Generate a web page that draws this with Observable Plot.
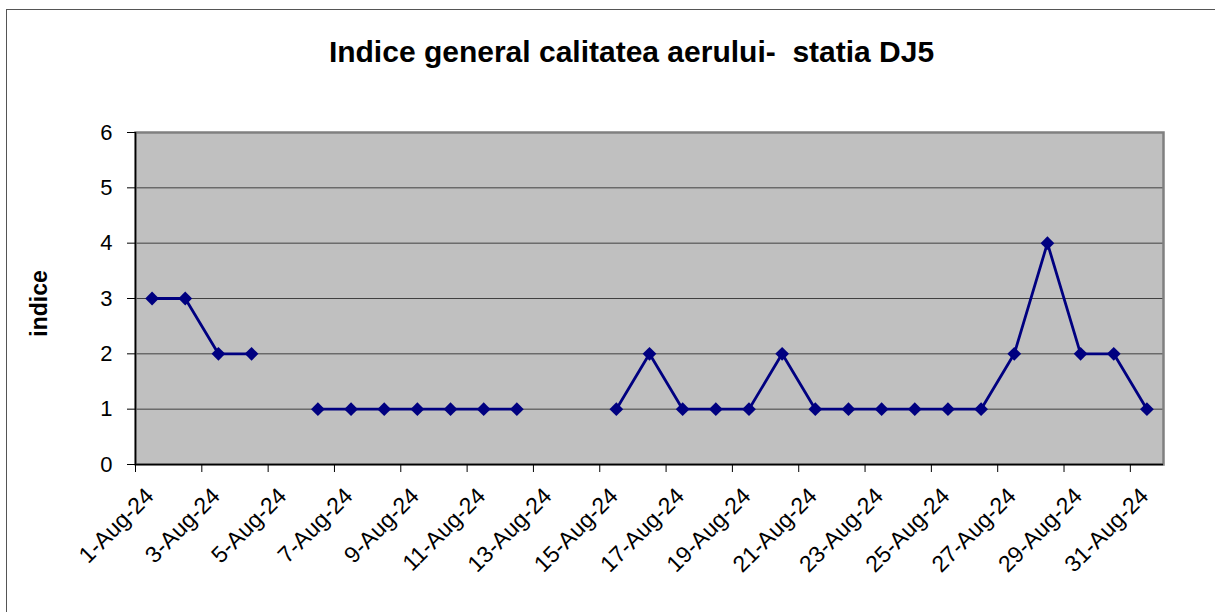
<!DOCTYPE html>
<html>
<head>
<meta charset="utf-8">
<script src="https://cdn.jsdelivr.net/npm/d3@7"></script>
<script src="https://cdn.jsdelivr.net/npm/@observablehq/plot@0.6"></script>
<style>
  html, body { margin: 0; padding: 0; background: #fff; }
  #wrap { position: relative; width: 1215px; height: 612px; overflow: hidden; }
  #border { position: absolute; left: 6px; top: 9px; right: -2px; bottom: -2px;
            border-top: 1px solid #555; border-left: 1px solid #555; }
  #chart { position: absolute; left: 0; top: 0; }
  svg text { white-space: pre; }
</style>
</head>
<body>
<div id="wrap"><div id="border"></div><div id="chart"></div></div>
<script>
const titleText = "Indice general calitatea aerului-  statia DJ5";
const yLabel = "indice";
const days = [1,2,3,4,5,6,7,8,9,10,11,12,13,14,15,16,17,18,19,20,21,22,23,24,25,26,27,28,29,30,31];
const values = [3,3,2,2,null,1,1,1,1,1,1,1,null,null,1,2,1,1,1,2,1,1,1,1,1,1,2,4,2,2,1];
const labelDays = [1,3,5,7,9,11,13,15,17,19,21,23,25,27,29,31];
const tickLabels = ["1-Aug-24","3-Aug-24","5-Aug-24","7-Aug-24","9-Aug-24","11-Aug-24","13-Aug-24","15-Aug-24",
                    "17-Aug-24","19-Aug-24","21-Aug-24","23-Aug-24","25-Aug-24","27-Aug-24","29-Aug-24","31-Aug-24"];
const yTicks = [0,1,2,3,4,5,6];
const gridValues = [1,2,3,4,5];

const data = days.map((d, i) => ({day: d, value: values[i]}));
const labelData = labelDays.map((d, i) => ({day: d, label: tickLabels[i]}));
const boundaries = labelDays.map(d => d - 0.5);

const chart = Plot.plot({
  width: 1215,
  height: 612,
  marginLeft: 135,
  marginRight: 52,
  marginTop: 132,
  marginBottom: 148,
  style: {fontFamily: "'Liberation Sans', Arial, sans-serif", background: "transparent", color: "#000", overflow: "visible"},
  x: {type: "linear", domain: [0.5, 31.5]},
  y: {domain: [0, 6]},
  marks: [
    Plot.frame({fill: "#c0c0c0"}),
    Plot.ruleY(gridValues, {stroke: "#404040", strokeWidth: 1}),
    Plot.frame({stroke: "#808080", strokeWidth: 2.5}),
    Plot.ruleY([0], {stroke: "#000", strokeWidth: 1.5}),
    Plot.ruleX([0.5], {stroke: "#000", strokeWidth: 1.5}),
    Plot.axisY({ticks: yTicks, tickSize: 8, tickFormat: () => "", label: null}),
    Plot.text(yTicks, {y: d => d, frameAnchor: "left", text: d => String(d), dx: -23, textAnchor: "end",
                       lineAnchor: "middle", fontSize: 22, fill: "#000"}),
    Plot.axisX({ticks: boundaries, tickSize: 8, tickFormat: () => "", label: null}),
    Plot.text(labelData, {x: "day", frameAnchor: "bottom", text: "label", rotate: -45, textAnchor: "end",
                          lineAnchor: "bottom", dx: 3, dy: 33, fontSize: 23, fill: "#000"}),
    Plot.line(data, {x: "day", y: "value", stroke: "#000080", strokeWidth: 2.8}),
    Plot.dot(data, {x: "day", y: "value", symbol: "diamond2", r: 6.2, fill: "#000080", stroke: "none"}),
    Plot.text([titleText], {frameAnchor: "top", dx: -18, dy: -71, lineAnchor: "bottom", fontSize: 30, fontWeight: "bold", fill: "#000"}),
    Plot.text([yLabel], {frameAnchor: "left", rotate: -90, dx: -89, dy: 5, lineAnchor: "bottom", textAnchor: "middle",
                         fontSize: 23, fontWeight: "bold", fill: "#000"})
  ]
});
document.getElementById("chart").appendChild(chart);
</script>
</body>
</html>
